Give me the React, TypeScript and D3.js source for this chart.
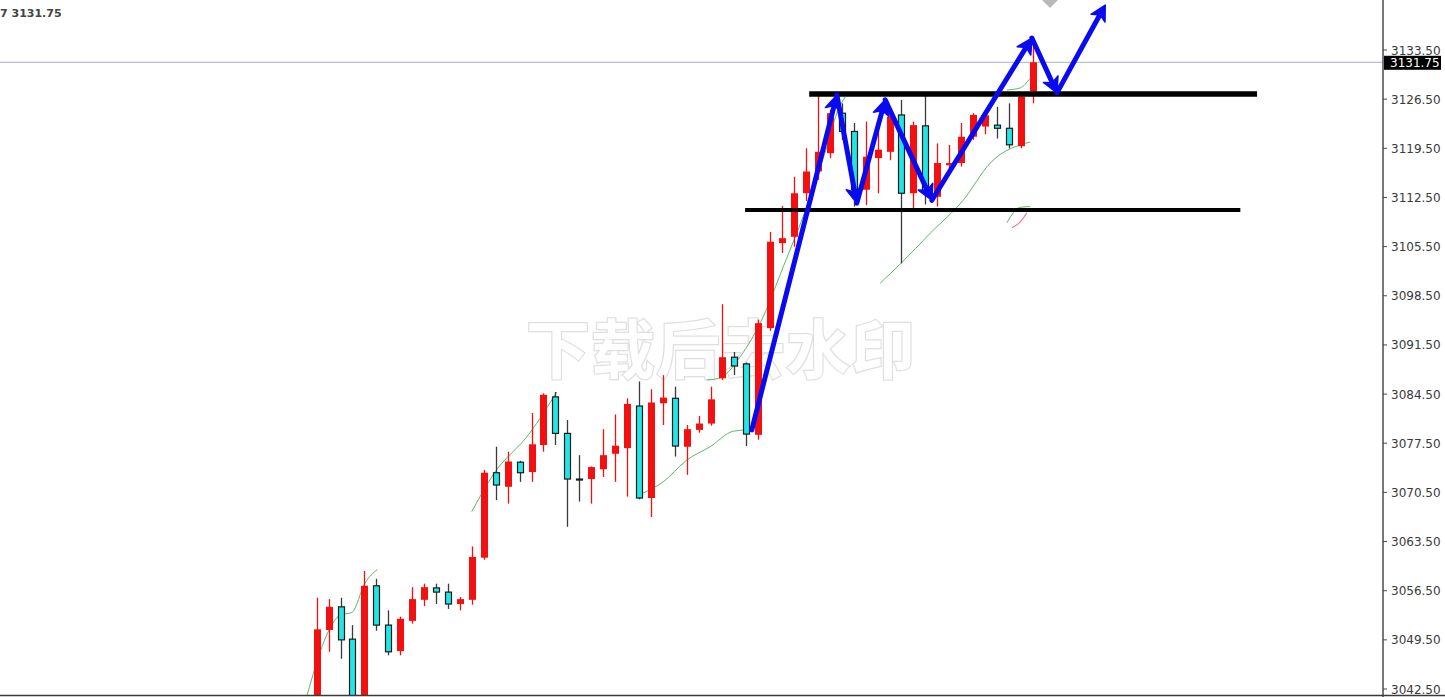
import React from "react";
import * as d3 from "d3";

// ---- Data ----
const candleOpen = [3038.0, 3050.9, 3054.2, 3049.6, 3039.5, 3057.2, 3051.6, 3047.9, 3052.2, 3055.2, 3056.9, 3056.3, 3054.6, 3055.2, 3061.2, 3073.3, 3071.3, 3074.8, 3073.4, 3077.25, 3084.1, 3078.9, 3072.4, 3072.4, 3073.8, 3076.0, 3076.8, 3082.8, 3069.7, 3083.2, 3083.9, 3077.0, 3079.4, 3080.3, 3086.75, 3089.75, 3088.8, 3078.7, 3093.9, 3106.0, 3106.9, 3113.1, 3116.2, 3118.8, 3124.5, 3121.9, 3113.6, 3118.1, 3119.0, 3124.25, 3113.1, 3122.7, 3112.6, 3117.1, 3117.4, 3121.15, 3122.6, 3122.8, 3122.35, 3119.8, 3127.6];
const candleHigh = [3055.5, 3055.3, 3055.5, 3051.6, 3059.3, 3058.2, 3053.7, 3052.8, 3057.0, 3057.5, 3057.5, 3057.5, 3055.6, 3062.8, 3073.7, 3077.0, 3076.3, 3075.0, 3081.8, 3084.6, 3084.8, 3080.8, 3075.8, 3074.2, 3079.5, 3081.6, 3083.9, 3086.3, 3085.2, 3087.2, 3085.55, 3080.1, 3081.4, 3085.55, 3097.3, 3090.5, 3089.0, 3095.1, 3107.6, 3111.3, 3115.45, 3119.5, 3127.1, 3125.0, 3125.9, 3123.1, 3123.3, 3123.1, 3124.5, 3126.4, 3123.3, 3127.0, 3120.2, 3120.0, 3123.1, 3124.5, 3124.6, 3125.4, 3125.9, 3127.0, 3135.4];
const candleLow = [3035.0, 3047.8, 3046.8, 3037.0, 3038.0, 3050.8, 3047.3, 3047.3, 3051.8, 3054.3, 3054.6, 3053.9, 3053.7, 3054.5, 3060.9, 3069.4, 3068.9, 3072.0, 3072.0, 3076.3, 3077.25, 3065.6, 3069.2, 3068.9, 3072.7, 3072.0, 3069.9, 3069.5, 3067.0, 3080.1, 3075.6, 3073.0, 3079.0, 3080.0, 3086.5, 3087.2, 3077.1, 3078.0, 3093.5, 3104.6, 3105.5, 3112.0, 3115.0, 3118.1, 3120.7, 3111.2, 3111.4, 3113.1, 3117.8, 3103.1, 3111.0, 3111.5, 3111.2, 3115.9, 3116.9, 3120.7, 3121.5, 3120.9, 3119.5, 3119.5, 3125.9];
const candleClose = [3051.0, 3054.2, 3049.5, 3039.5, 3057.2, 3051.6, 3047.8, 3052.5, 3055.3, 3057.0, 3056.3, 3054.6, 3055.3, 3061.3, 3073.3, 3071.55, 3074.9, 3073.3, 3077.35, 3084.4, 3078.9, 3072.4, 3072.3, 3074.1, 3075.8, 3077.15, 3083.1, 3069.7, 3083.3, 3084.0, 3077.1, 3079.5, 3080.3, 3083.75, 3089.75, 3088.5, 3078.8, 3094.6, 3106.2, 3106.7, 3113.1, 3116.2, 3119.0, 3124.5, 3121.9, 3113.6, 3118.3, 3119.3, 3124.0, 3113.1, 3122.8, 3113.1, 3117.4, 3117.4, 3121.15, 3124.25, 3124.2, 3122.35, 3120.0, 3126.85, 3131.75];

// moving-average fragments: [bar index, price]
const maGreen1: [number, number][] = [[-0.84, 3041.4], [0.95, 3050.6], [1.95, 3053.0], [2.95, 3053.4], [4.05, 3057.6], [5.08, 3059.5]];
const maGreen2: [number, number][] = [[12.99, 3067.75], [14.78, 3073.0], [17.88, 3079.0], [20.12, 3084.8]];
const maGreen3: [number, number][] = [[27.35, 3070.4], [29.03, 3072.0], [31.01, 3075.1], [32.97, 3077.0], [34.9, 3079.2], [36.04, 3079.4]];
const maGreen4: [number, number][] = [[32.69, 3086.5], [33.8, 3086.8], [35.48, 3089.8], [37.41, 3095.5], [39.09, 3102.6], [41.07, 3111.2], [42.75, 3119.7], [43.59, 3124.5], [44.28, 3126.8]];
const maGreen5: [number, number][] = [[47.22, 3100.3], [48.95, 3103.1], [51.41, 3107.4], [54.17, 3112.1], [56.44, 3117.4], [59.79, 3120.4]];
const maGreen6: [number, number][] = [[57.84, 3127.8], [58.95, 3128.1], [59.79, 3129.5]];
const maGreen7: [number, number][] = [[57.84, 3108.9], [58.95, 3111.1], [59.79, 3111.2]];
const maPink: [number, number][] = [[58.26, 3108.2], [58.95, 3109.0], [59.51, 3110.3]];

// hand-drawn blue zig-zag arrows: [bar index, price]
const bluePath: [number, number][] = [[36.46, 3079.4], [43.59, 3127.1], [45.26, 3111.7], [47.64, 3126.4], [51.55, 3112.1], [59.93, 3135.2], [62.03, 3127.4], [66.08, 3139.9]];

// horizontal levels: [from index, to index, price]
const levelLines: [number, number, number][] = [[41.27, 78.8, 3127.23], [35.9, 77.4, 3110.7]];
const levelWidths = [5.5, 4];

const tickValues = [3133.5, 3126.5, 3119.5, 3112.5, 3105.5, 3098.5, 3091.5, 3084.5, 3077.5, 3070.5, 3063.5, 3056.5, 3049.5, 3042.5];
const currentPrice = 3131.75;
const headerText = "7 3131.75";
const watermark = "下载后去水印";

const W = 1445;
const H = 697;
const axisX = 1383;
const plotBottom = 695;

export default function App() {
  const x = d3.scaleLinear().domain([0, 60]).range([316.7, 1032.7]);
  const y = d3.scaleLinear().domain([3042.5, 3133.5]).range([689, 50]);

  const line = d3
    .line<[number, number]>()
    .x((d) => x(d[0]))
    .y((d) => y(d[1]))
    .curve(d3.curveMonotoneX);

  const bodyW = 7;
  const red = "#f21010";
  const cyan = "#22e6e6";

  const candles = candleOpen.map((o, i) => {
    const c = candleClose[i];
    const hi = candleHigh[i];
    const lo = candleLow[i];
    const bull = c >= o;
    const cx = Math.round(x(i)) + 0.5;
    const top = y(Math.max(o, c));
    const bot = y(Math.min(o, c));
    const h = Math.max(1, bot - top);
    return (
      <g key={i}>
        <line x1={cx} x2={cx} y1={y(hi)} y2={y(lo)} stroke={bull ? red : "#3a3a3a"} strokeWidth={1.3} />
        {bull ? (
          <rect x={cx - bodyW / 2} y={top} width={bodyW} height={h} fill={red} />
        ) : (
          <rect x={cx - bodyW / 2 + 0.5} y={top} width={bodyW - 1} height={h} fill={cyan} stroke="#1b1b1b" strokeWidth={1.2} />
        )}
      </g>
    );
  });

  // blue arrows
  const pts = bluePath.map((d) => [x(d[0]), y(d[1])] as [number, number]);
  const arrows = [];
  for (let k = 0; k < pts.length - 1; k++) {
    const [ax, ay] = pts[k];
    const [bx, by] = pts[k + 1];
    const len = Math.hypot(bx - ax, by - ay);
    const ux = (bx - ax) / len;
    const uy = (by - ay) / len;
    const nx = -uy;
    const ny = ux;
    const L = 15;
    const Wd = 8;
    const baseX = bx - ux * L;
    const baseY = by - uy * L;
    arrows.push(
      <g key={k}>
        <line x1={ax} y1={ay} x2={bx - ux * 6} y2={by - uy * 6} stroke="#0a0af0" strokeWidth={5} strokeLinecap="round" />
        <polygon
          points={`${bx},${by} ${baseX + nx * Wd},${baseY + ny * Wd} ${baseX + ux * 4},${baseY + uy * 4} ${baseX - nx * Wd},${baseY - ny * Wd}`}
          fill="#0a0af0"
          stroke="#0a0af0"
          strokeWidth={1.5}
          strokeLinejoin="round"
        />
      </g>
    );
  }

  const greens = [maGreen1, maGreen2, maGreen3, maGreen4, maGreen5, maGreen6, maGreen7];

  return (
    <svg width={W} height={H} style={{ position: "absolute", left: 0, top: 0, background: "#fff" }}>
      <defs>
        <clipPath id="plot">
          <rect x={0} y={0} width={axisX} height={plotBottom} />
        </clipPath>
      </defs>
      <rect x={0} y={0} width={W} height={H} fill="#ffffff" />

      {/* watermark */}
      <text
        x={526}
        y={373}
        fontFamily="'Noto Sans CJK SC', sans-serif"
        fontSize={64}
        fontWeight="bold"
        letterSpacing={1}
        fill="#ffffff"
        stroke="#e0e0e0"
        strokeWidth={2.5}
        paintOrder="stroke"
      >
        {watermark}
      </text>

      {/* current price line */}
      <line x1={0} x2={axisX} y1={y(currentPrice)} y2={y(currentPrice)} stroke="#a8afc4" strokeWidth={1} />

      <g clipPath="url(#plot)">
        {greens.map((g, i) => (
          <path key={i} d={line(g) || ""} fill="none" stroke="#5cb86a" strokeWidth={1} />
        ))}
        <path d={line(maPink) || ""} fill="none" stroke="#f07aa0" strokeWidth={1.2} />
        {candles}
        {levelLines.map((l, i) => (
          <line key={i} x1={x(l[0])} x2={x(l[1])} y1={y(l[2])} y2={y(l[2])} stroke="#000" strokeWidth={levelWidths[i]} />
        ))}
        {arrows}
      </g>

      {/* chart shift marker */}
      <polygon points="1042,0 1058,0 1050,8" fill="#b9b9b9" />

      {/* header */}
      <text x={0} y={17} fontFamily="'DejaVu Sans', sans-serif" fontSize={11} fontWeight="bold" fill="#444">
        {headerText}
      </text>

      {/* price axis */}
      <line x1={axisX} x2={axisX} y1={0} y2={H} stroke="#4a4a4a" strokeWidth={1.5} />
      <line x1={0} x2={W} y1={plotBottom + 0.5} y2={plotBottom + 0.5} stroke="#3a3a3a" strokeWidth={1.5} />
      {tickValues.map((t) => (
        <g key={t}>
          <line x1={axisX} x2={axisX + 4} y1={y(t)} y2={y(t)} stroke="#4a4a4a" strokeWidth={1} />
          <text x={1391} y={y(t) + 4.5} fontFamily="'DejaVu Sans', sans-serif" fontSize={12} fill="#3a3a3a">
            {t.toFixed(2)}
          </text>
        </g>
      ))}
      <rect x={1384} y={y(currentPrice) - 6.5} width={57} height={14} fill="#000" />
      <text x={1390} y={y(currentPrice) + 4.5} fontFamily="'DejaVu Sans', sans-serif" fontSize={12} fill="#fff">
        {currentPrice.toFixed(2)}
      </text>
    </svg>
  );
}
